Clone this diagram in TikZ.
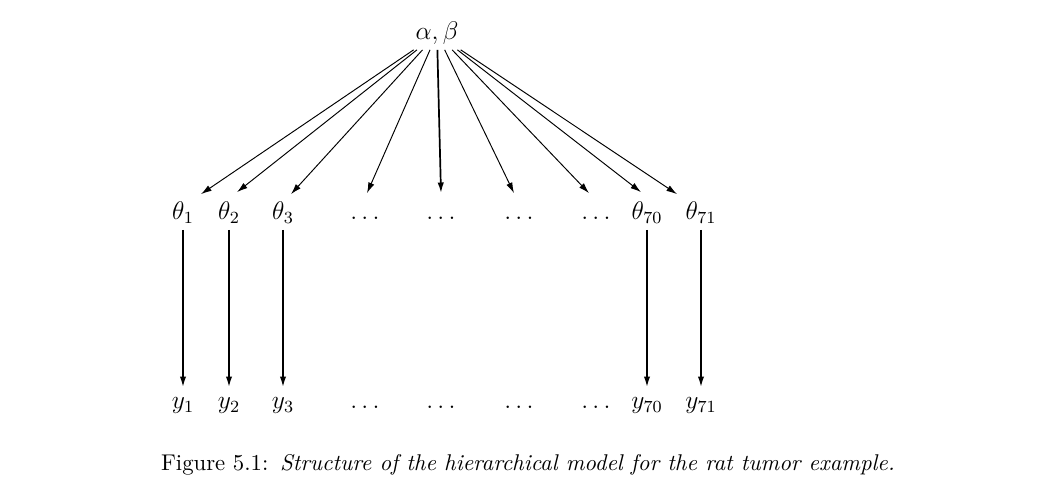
\documentclass[tikz,border=0pt]{standalone}
\usetikzlibrary{arrows.meta,calc}

\tikzset{
  lbl/.style={inner sep=2pt, font=\large, text height=8pt, text depth=2.5pt},
  fan/.style={-{Latex[length=5pt,width=3pt]}, line width=0.45pt},
  drop/.style={-{Latex[length=5pt,width=3pt]}, line width=0.8pt}
}

\begin{document}
\begin{tikzpicture}[x=0.47pt,y=0.47pt,yscale=-1,xscale=1]
\useasboundingbox (0,0) rectangle (1050,495);

% Text Node
\node [lbl] (ab) at (437,34) {$\alpha,\beta$};
% Text Node
\node [lbl] (t1) at (183,214) {$\theta_1$};
% Text Node
\node [lbl] (t2) at (229,214) {$\theta_2$};
% Text Node
\node [lbl] (t3) at (283,214) {$\theta_3$};
% Text Node
\node [lbl] (d1) at (365,214) {$\dots$};
% Text Node
\node [lbl] (d2) at (441,214) {$\dots$};
% Text Node
\node [lbl] (d3) at (519,214) {$\dots$};
% Text Node
\node [lbl] (d4) at (596,214) {$\dots$};
% Text Node
\node [lbl] (t70) at (647,214) {$\theta_{70}$};
% Text Node
\node [lbl] (t71) at (701,214) {$\theta_{71}$};

% Text Node
\node [lbl] (y1) at (183,403) {$y_1$};
% Text Node
\node [lbl] (y2) at (229,403) {$y_2$};
% Text Node
\node [lbl] (y3) at (283,403) {$y_3$};
% Text Node
\node [lbl] (e1) at (365,403) {$\dots$};
% Text Node
\node [lbl] (e2) at (441,403) {$\dots$};
% Text Node
\node [lbl] (e3) at (519,403) {$\dots$};
% Text Node
\node [lbl] (e4) at (596,403) {$\dots$};
% Text Node
\node [lbl] (y70) at (647,403) {$y_{70}$};
% Text Node
\node [lbl] (y71) at (701,403) {$y_{71}$};

%Straight Lines
\draw [fan] (ab) -- ($(t1.north)+(18,-4)$);
\draw [fan] (ab) -- ($(t2.north)+(8,-6)$);
\draw [fan] (ab) -- ($(t3.north)+(8,-4)$);
\draw [fan] (ab) -- ($(d1.north)+(2,-5)$);
\draw [drop] (ab) -- ($(d2.north)+(0,-5)$);
\draw [fan] (ab) -- ($(d3.north)+(-5,-5)$);
\draw [fan] (ab) -- ($(d4.north)+(-7,-5)$);
\draw [fan] (ab) -- ($(t70.north)+(-6,-6)$);
\draw [fan] (ab) -- ($(t71.north)+(-24,-4)$);

%Straight Lines
\draw [drop] (t1.south) -- (y1.north);
\draw [drop] (t2.south) -- (y2.north);
\draw [drop] (t3.south) -- (y3.north);
\draw [drop] (t70.south) -- (y70.north);
\draw [drop] (t71.south) -- (y71.north);

% Text Node
\node [inner sep=0pt, font=\fontsize{10.7}{13}\selectfont] (cap) at (528,465) {Figure 5.1:\hspace{5.5pt}\textit{Structure of the hierarchical model for the rat tumor example.}};
\end{tikzpicture}
\end{document}
